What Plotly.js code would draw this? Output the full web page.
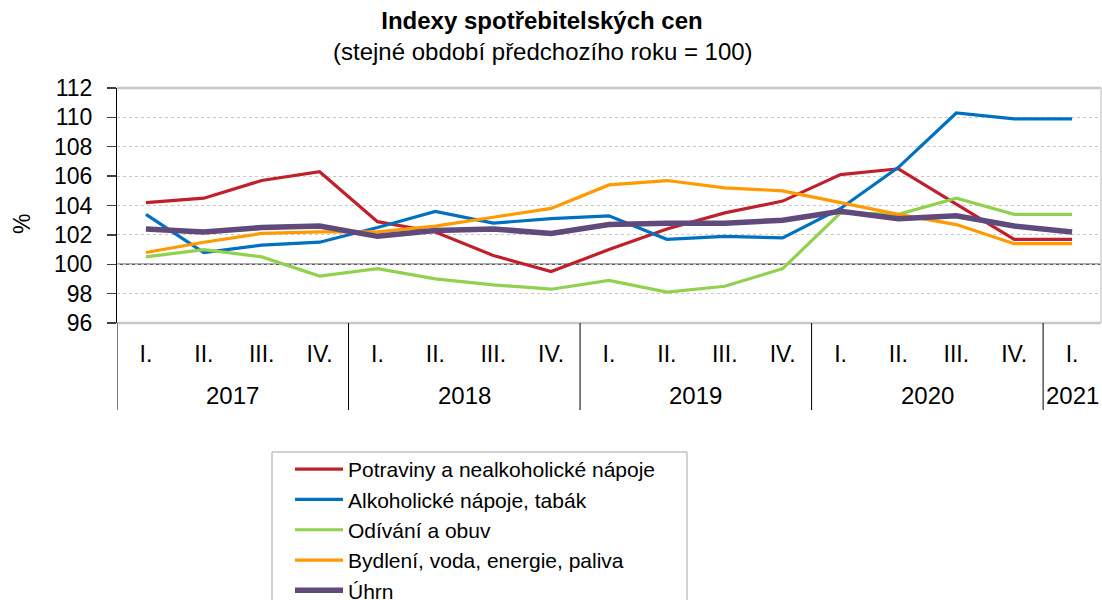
<!DOCTYPE html>
<html>
<head>
<meta charset="utf-8">
<script src="https://cdn.plot.ly/plotly-3.0.1.min.js"></script>
<style>
  html, body { margin: 0; padding: 0; background: #fff; }
  #chart { width: 1102px; height: 600px; }
</style>
</head>
<body>
<div id="chart"></div>
<script>
// ---- data ----
const years = ['2017', '2018', '2019', '2020', '2021'];
const quartersPerYear = [
  ['I.', 'II.', 'III.', 'IV.'],
  ['I.', 'II.', 'III.', 'IV.'],
  ['I.', 'II.', 'III.', 'IV.'],
  ['I.', 'II.', 'III.', 'IV.'],
  ['I.']
];
const seriesNames = [
  'Potraviny a nealkoholické nápoje',
  'Alkoholické nápoje, tabák',
  'Odívání a obuv',
  'Bydlení, voda, energie, paliva',
  'Úhrn'
];
const potraviny = [104.2, 104.5, 105.7, 106.3, 102.9, 102.2, 100.6, 99.5, 101.0, 102.4, 103.5, 104.3, 106.1, 106.5, 104.1, 101.7, 101.7];
const alkohol   = [103.4, 100.8, 101.3, 101.5, 102.5, 103.6, 102.8, 103.1, 103.3, 101.7, 101.9, 101.8, 103.8, 106.6, 110.3, 109.9, 109.9];
const odivani   = [100.5, 101.0, 100.5, 99.2, 99.7, 99.0, 98.6, 98.3, 98.9, 98.1, 98.5, 99.7, 103.5, 103.4, 104.5, 103.4, 103.4];
const bydleni   = [100.8, 101.5, 102.1, 102.2, 102.2, 102.6, 103.2, 103.8, 105.4, 105.7, 105.2, 105.0, 104.2, 103.4, 102.7, 101.4, 101.4];
const uhrn      = [102.4, 102.2, 102.5, 102.6, 101.9, 102.3, 102.4, 102.1, 102.7, 102.8, 102.8, 103.0, 103.6, 103.1, 103.3, 102.6, 102.2];
const yTicks = [96, 98, 100, 102, 104, 106, 108, 110, 112];

// ---- styles ----
const colors = ['#C0202B', '#0070C0', '#92D050', '#FF9A00', '#604A7B'];
const widths = [3.2, 3.2, 3.2, 3.2, 5.5];
const FONT = 'Arial, "Liberation Sans", sans-serif';

// category keys (unique) and their quarter labels
const keys = [], qLabels = [], groups = [];
years.forEach((y, i) => {
  groups.push({year: y, start: keys.length, n: quartersPerYear[i].length});
  quartersPerYear[i].forEach(q => { keys.push(y + ' ' + q); qLabels.push(q); });
});

const values = [potraviny, alkohol, odivani, bydleni, uhrn];
const traces = values.map((v, i) => ({
  type: 'scatter', mode: 'lines',
  x: keys, y: v, name: seriesNames[i],
  line: {color: colors[i], width: widths[i]},
  hoverinfo: 'x+y+name'
}));

// plot area in pixels: x 117..1101, y 88..323
const L = 117, R = 1101, T = 88, B = 323, W = 1102, H = 600;
const px2px = x => (x - L) / (R - L);
const py2py = y => (B - y) / (B - T);

const shapes = [];
const annotations = [];

// frame (top, bottom, right) in light grey
shapes.push({type: 'line', xref: 'paper', yref: 'paper', x0: 0, x1: 1, y0: 1, y1: 1, line: {color: '#C8C8C8', width: 2.5}});
shapes.push({type: 'line', xref: 'paper', yref: 'paper', x0: 0, x1: 1, y0: 0, y1: 0, line: {color: '#C8C8C8', width: 2.5}});
shapes.push({type: 'line', xref: 'paper', yref: 'paper', x0: 1, x1: 1, y0: 0, y1: 1, line: {color: '#D0D0D0', width: 1.5}});
// 100 reference line
shapes.push({type: 'line', xref: 'paper', yref: 'y', x0: 0, x1: 1, y0: 100, y1: 100, layer: 'between', line: {color: '#595959', width: 1.4}});

// year group dividers + year labels
groups.forEach(g => {
  shapes.push({type: 'line', xref: 'x', yref: 'paper', x0: g.start - 0.5, x1: g.start - 0.5,
    y0: 0, y1: py2py(410), line: {color: '#000', width: 1}});
  annotations.push({xref: 'x', yref: 'paper', x: g.start + (g.n - 1) / 2, y: py2py(395),
    text: g.year, showarrow: false, xanchor: 'center', yanchor: 'middle',
    font: {family: FONT, size: 24, color: '#000'}});
});

// subtitle
annotations.push({xref: 'paper', yref: 'paper', x: px2px(543), y: py2py(51),
  text: '(stejné období předchozího roku = 100)', showarrow: false,
  xanchor: 'center', yanchor: 'middle', font: {family: FONT, size: 24, color: '#000'}});
// y axis label
annotations.push({xref: 'paper', yref: 'paper', x: px2px(22), y: py2py(224),
  text: '%', showarrow: false, textangle: -90, xanchor: 'center', yanchor: 'middle',
  font: {family: FONT, size: 23, color: '#000'}});

// legend box
shapes.push({type: 'rect', xref: 'paper', yref: 'paper', x0: px2px(272), x1: px2px(687),
  y0: py2py(452), y1: py2py(640), line: {color: '#A6A6A6', width: 1}, fillcolor: 'rgba(0,0,0,0)'});

const layout = {
  width: W, height: H,
  margin: {l: L, r: W - R, t: T, b: H - B, pad: 0, autoexpand: false},
  paper_bgcolor: '#fff', plot_bgcolor: '#fff',
  font: {family: FONT, size: 23, color: '#000'},
  title: {
    text: '<b>Indexy spotřebitelských cen</b>',
    font: {family: FONT, size: 24, color: '#000'},
    x: 542 / W, xanchor: 'center', xref: 'container',
    y: 1 - 21 / H, yanchor: 'middle', yref: 'container'
  },
  xaxis: {
    type: 'category', categoryorder: 'array', categoryarray: keys,
    range: [-0.5, keys.length - 0.5],
    tickmode: 'array', tickvals: keys, ticktext: qLabels,
    ticks: '', showline: false, showgrid: false, zeroline: false,
    tickfont: {family: FONT, size: 23, color: '#000'},
    ticklabelstandoff: 15, fixedrange: true
  },
  yaxis: {
    range: [96, 112], tickmode: 'array', tickvals: yTicks,
    ticks: 'outside', ticklen: 9, tickwidth: 1.3, tickcolor: '#404040',
    showline: true, linecolor: '#000', linewidth: 1,
    showgrid: true, gridcolor: '#C8C8C8', griddash: 'dot', gridwidth: 1,
    zeroline: false, tickfont: {family: FONT, size: 23, color: '#000'},
    ticklabelstandoff: 10, fixedrange: true
  },
  showlegend: true,
  legend: {
    x: px2px(290), xanchor: 'left', xref: 'paper',
    y: py2py(449), yanchor: 'top', yref: 'paper',
    bgcolor: 'rgba(0,0,0,0)', borderwidth: 0,
    font: {family: FONT, size: 21, color: '#000'},
    itemwidth: 48, traceorder: 'normal'
  },
  shapes: shapes,
  annotations: annotations
};

Plotly.newPlot('chart', traces, layout, {displayModeBar: false, staticPlot: true});
</script>
</body>
</html>
